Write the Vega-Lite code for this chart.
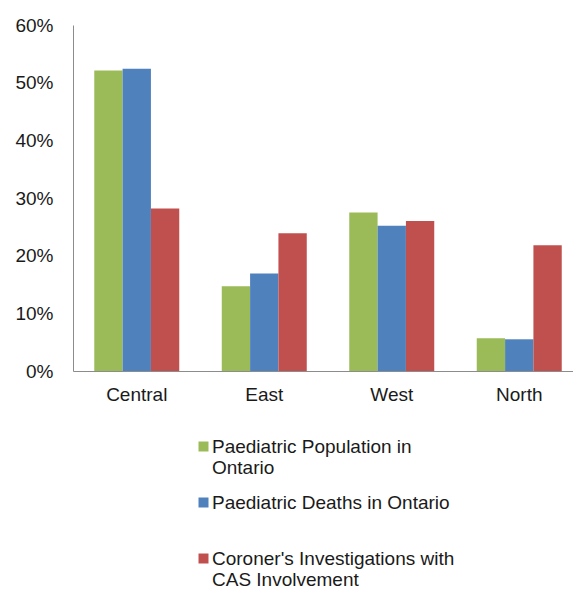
{
  "$schema": "https://vega.github.io/schema/vega-lite/v6.json",
  "width": 500,
  "height": 346,
  "padding": {"left": 14, "top": 16, "right": 0, "bottom": 0},
  "config": {
    "view": {"stroke": null},
    "font": "Liberation Sans",
    "axis": {"labelFont": "Liberation Sans", "labelFontSize": 19, "labelColor": "#1a1a1a", "domainColor": "#8c8c8c", "domainWidth": 1, "ticks": false, "grid": false, "title": null}
  },
  "data": {
    "values": [
      {"region": "Central", "series": "Paediatric Population in Ontario", "value": 0.521},
      {"region": "Central", "series": "Paediatric Deaths in Ontario", "value": 0.524},
      {"region": "Central", "series": "Coroner's Investigations with CAS Involvement", "value": 0.282},
      {"region": "East", "series": "Paediatric Population in Ontario", "value": 0.147},
      {"region": "East", "series": "Paediatric Deaths in Ontario", "value": 0.169},
      {"region": "East", "series": "Coroner's Investigations with CAS Involvement", "value": 0.239},
      {"region": "West", "series": "Paediatric Population in Ontario", "value": 0.275},
      {"region": "West", "series": "Paediatric Deaths in Ontario", "value": 0.252},
      {"region": "West", "series": "Coroner's Investigations with CAS Involvement", "value": 0.260},
      {"region": "North", "series": "Paediatric Population in Ontario", "value": 0.057},
      {"region": "North", "series": "Paediatric Deaths in Ontario", "value": 0.055},
      {"region": "North", "series": "Coroner's Investigations with CAS Involvement", "value": 0.218}
    ]
  },
  "mark": {"type": "bar"},
  "encoding": {
    "x": {
      "field": "region", "type": "nominal", "sort": ["Central", "East", "West", "North"],
      "scale": {"paddingInner": 0.3333, "paddingOuter": 0.1275, "align": 0.654},
      "axis": {"labelAngle": 0, "labelPadding": 14}
    },
    "xOffset": {
      "field": "series", "type": "nominal",
      "sort": ["Paediatric Population in Ontario", "Paediatric Deaths in Ontario", "Coroner's Investigations with CAS Involvement"],
      "scale": {"paddingInner": 0, "paddingOuter": 0}
    },
    "y": {
      "field": "value", "type": "quantitative",
      "scale": {"domain": [0, 0.6], "nice": false},
      "axis": {"values": [0, 0.1, 0.2, 0.3, 0.4, 0.5, 0.6], "format": ".0%", "labelPadding": 20}
    },
    "color": {
      "field": "series", "type": "nominal",
      "scale": {
        "domain": ["Paediatric Population in Ontario", "Paediatric Deaths in Ontario", "Coroner's Investigations with CAS Involvement"],
        "range": ["#9BBB59", "#4F81BD", "#C0504D"]
      },
      "legend": {
        "orient": "none", "legendX": 121, "legendY": 412, "title": null,
        "symbolType": "square", "symbolSize": 100, "symbolStrokeWidth": 0,
        "labelFont": "Liberation Sans", "labelFontSize": 19, "labelColor": "#1a1a1a",
        "labelLineHeight": 22, "labelOffset": -1, "labelLimit": 400, "rowPadding": 15,
        "labelExpr": "datum.label == 'Paediatric Population in Ontario' ? ['Paediatric Population in', 'Ontario'] : datum.label == 'Paediatric Deaths in Ontario' ? ['Paediatric Deaths in Ontario', ''] : [\"Coroner's Investigations with\", 'CAS Involvement']"
      }
    }
  }
}
